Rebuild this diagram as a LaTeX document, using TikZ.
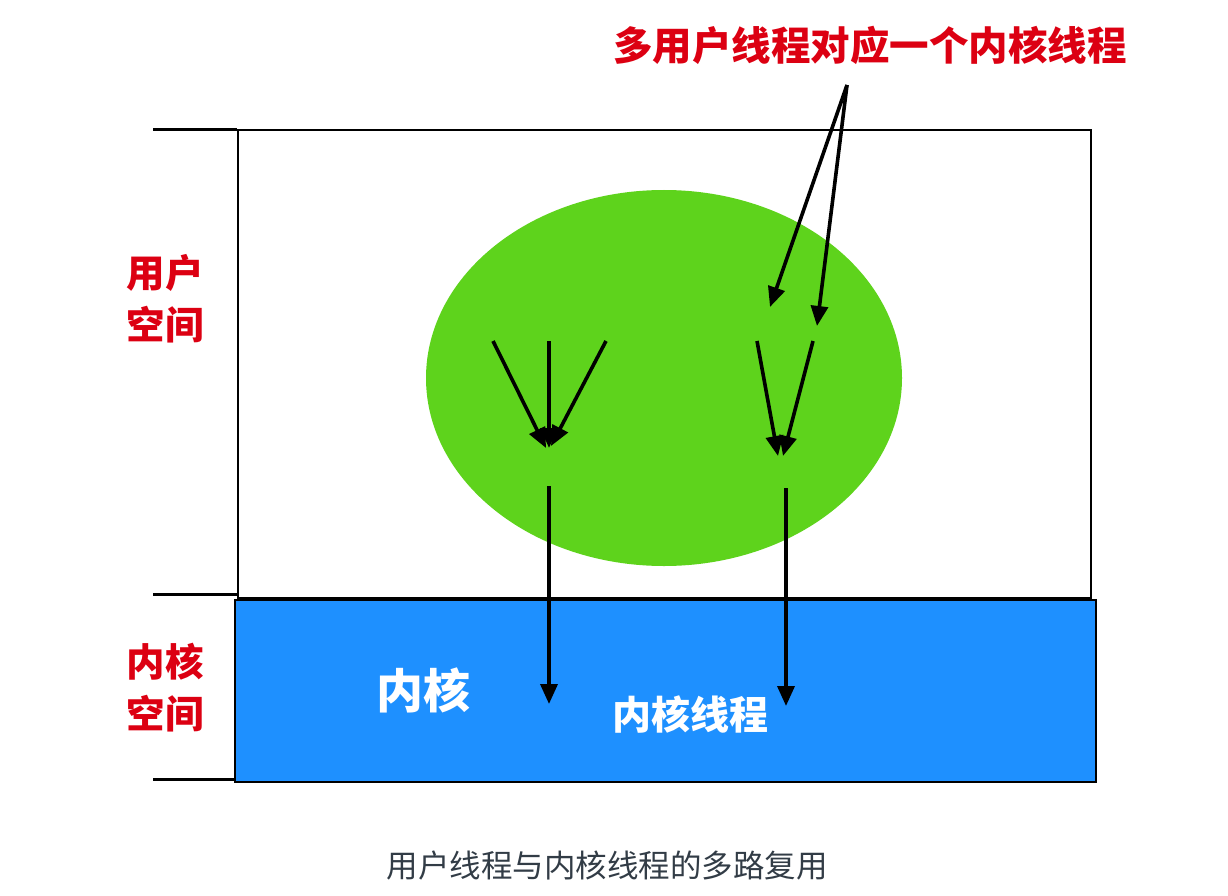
\documentclass[tikz,border=0pt]{standalone}
\usepackage{fontspec}
\newfontfamily\cjk{Noto Sans CJK SC}
\usetikzlibrary{arrows.meta,shapes.geometric}
\definecolor{redtxt}{RGB}{220,0,18}
\definecolor{greenfill}{RGB}{94,211,28}
\definecolor{bluefill}{RGB}{30,144,255}
\definecolor{captxt}{RGB}{50,60,70}
\begin{document}
\begin{tikzpicture}[x=1pt,y=-1pt,
  arr/.style={line width=3.6pt,-{Triangle[length=20pt,width=17pt]}},
  bracket/.style={line width=3pt},
  redlab/.style={text=redtxt,font=\cjk\bfseries\fontsize{38.5}{52}\selectfont,align=center,inner sep=0},
  whitelab/.style={text=white,font=\cjk\bfseries\fontsize{#1}{#1}\selectfont,inner sep=0},
]
\useasboundingbox (0,0) rectangle (1228,896);
% user space box
\node[draw=black,line width=1.6pt,minimum width=853pt,minimum height=468pt,anchor=north west,inner sep=0] (user) at (237,129) {};
% kernel box
\node[draw=black,fill=bluefill,line width=2pt,minimum width=861pt,minimum height=182pt,anchor=north west,inner sep=0] (kern) at (234,599) {};
% ellipse
\node[ellipse,fill=greenfill,minimum width=476pt,minimum height=376pt,inner sep=0] (ell) at (664,378) {};
% brackets
\coordinate (b1) at (153,130);
\coordinate (b1e) at (237,130);
\coordinate (b2) at (153,594);
\coordinate (b2e) at (237,594);
\coordinate (b3) at (153,779);
\coordinate (b3e) at (235,779);
\draw[bracket] (b1) -- (b1e);
\draw[bracket] (b2) -- (b2e);
\draw[bracket] (b3) -- (b3e);
% labels
\node[redlab] (us) at (165,299) {用户\\空间};
\node[redlab] (ks) at (165,688) {内核\\空间};
\node[redlab,font=\cjk\bfseries\fontsize{39.5}{39.5}\selectfont] (title) at (870,45) {多用户线程对应一个内核线程};
\node[whitelab=47] (kl) at (423,690) {内核};
\node[whitelab=39] (kt) at (690,714) {内核线程};
\node[text=captxt,font=\cjk\fontsize{31.5}{31.5}\selectfont,inner sep=0] (cap) at (607,866) {用户线程与内核线程的多路复用};
% arrows group 1
\coordinate (a1s) at (493,341); \coordinate (a1e) at (546,448);
\coordinate (a2s) at (549,341); \coordinate (a2e) at (549,448);
\coordinate (a3s) at (606,341); \coordinate (a3e) at (551,446);
\draw[arr] (a1s) -- (a1e);
\draw[arr] (a2s) -- (a2e);
\draw[arr] (a3s) -- (a3e);
% arrows group 2
\coordinate (c1s) at (757,341); \coordinate (c1e) at (778,456);
\coordinate (c2s) at (813,341); \coordinate (c2e) at (783,456);
\draw[arr] (c1s) -- (c1e);
\draw[arr] (c2s) -- (c2e);
% annotation arrows
\coordinate (t0) at (847,85);
\coordinate (t1) at (770,307);
\coordinate (t2) at (817,326);
\draw[arr] (t0) -- (t1);
\draw[arr] (t0) -- (t2);
% long arrows
\coordinate (l1s) at (549,486); \coordinate (l1e) at (549,704);
\coordinate (l2s) at (786,488); \coordinate (l2e) at (786,706);
\draw[arr] (l1s) -- (l1e);
\draw[arr] (l2s) -- (l2e);
\end{tikzpicture}
\end{document}
